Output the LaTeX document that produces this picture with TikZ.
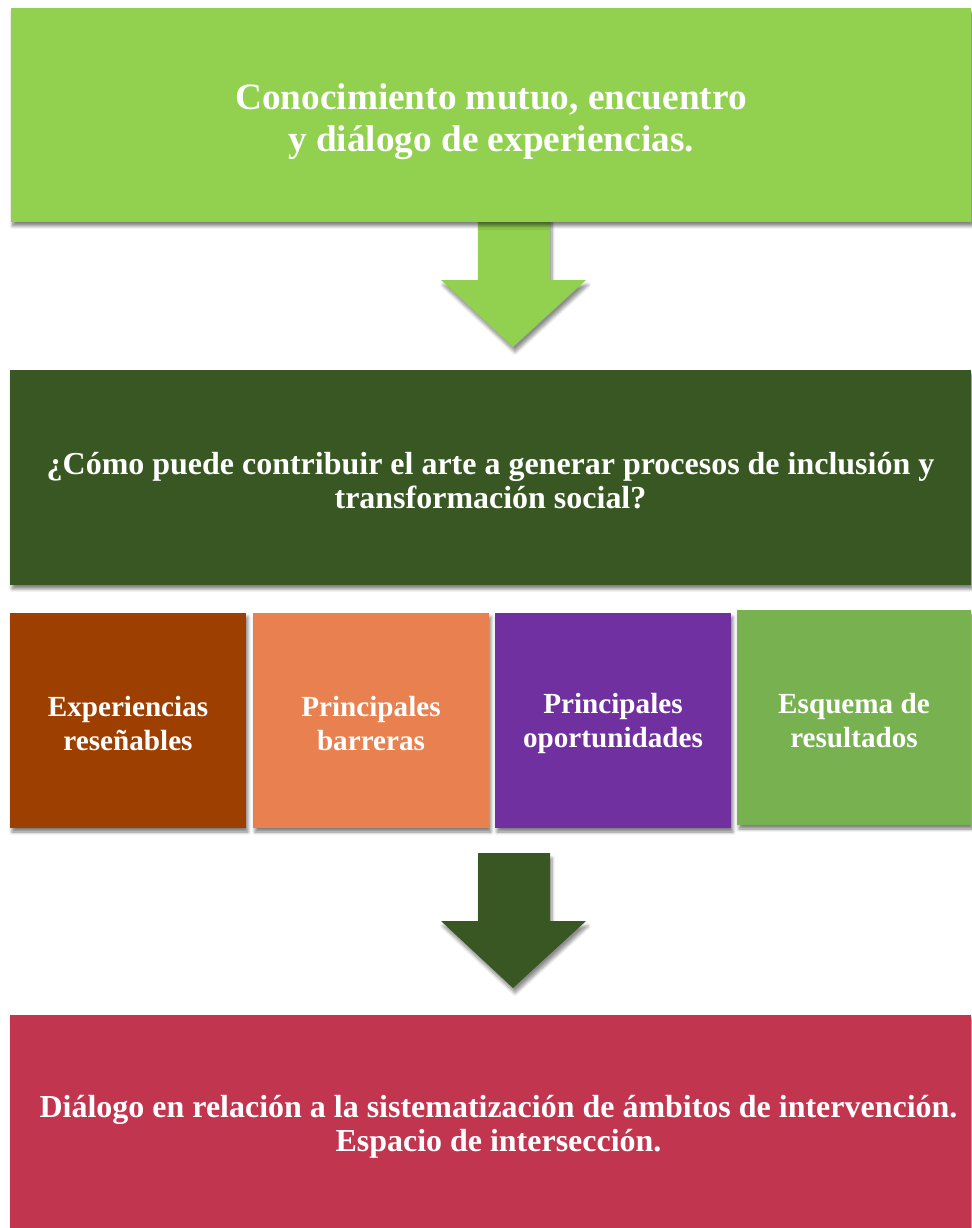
\documentclass[tikz,border=0pt]{standalone}
\usepackage{fontspec}
\setmainfont{Liberation Serif}
\usetikzlibrary{shadows.blur}

\definecolor{lightgreen}{HTML}{92D050}
\definecolor{darkgreen}{HTML}{385723}
\definecolor{brown}{HTML}{9E3F02}
\definecolor{orange}{HTML}{E8814F}
\definecolor{purple}{HTML}{7030A0}
\definecolor{midgreen}{HTML}{77B150}
\definecolor{rose}{HTML}{C1354F}

\tikzset{
    box/.style={rectangle, inner sep=0pt,
        blur shadow={shadow xshift=.04cm, shadow yshift=-.08cm,
            shadow blur steps=6, shadow opacity=50}},
    bigbox/.style={box, minimum width=19.22cm, minimum height=4.28cm},
    smallbox/.style={box, minimum width=4.72cm, minimum height=4.3cm},
    boxtext/.style={align=center, text=white, inner sep=0pt,
        font=\bfseries\fontsize{18.2}{19.6}\selectfont},
    smalltext/.style={boxtext, font=\bfseries\fontsize{16.6}{19.3}\selectfont},
    blockarrow/.style={blur shadow={shadow xshift=.04cm, shadow yshift=-.1cm,
            shadow blur steps=6, shadow opacity=45}}
}

\begin{document}
\begin{tikzpicture}[x=0.02cm, y=-0.02cm]
\useasboundingbox (0,0) rectangle (971,1228);

% arrows between the stages (drawn first, the boxes overlap them)
\coordinate (a1) at (513,215);
\coordinate (a2) at (513,853);
\fill[lightgreen, blockarrow] (a1) ++(-35,0) -- ++(0,65) -- ++(-37,0) -- (513,347)
    -- (586,280) -- ++(-36,0) -- ++(0,-65) -- cycle;
\fill[darkgreen, blockarrow] (a2) ++(-35,0) -- ++(0,68) -- ++(-37,0) -- (513,988)
    -- (586,921) -- ++(-36,0) -- ++(0,-68) -- cycle;

% boxes
\node[bigbox, fill=lightgreen] (start) at (491,115) {};
\node[bigbox, fill=darkgreen, minimum height=4.3cm] (question) at (490.5,477.5) {};
\node[smallbox, fill=brown]  (exper) at (128,720.5) {};
\node[smallbox, fill=orange] (barr)  at (371,720.5) {};
\node[smallbox, fill=purple] (oport) at (613,720.5) {};
\node[smallbox, fill=midgreen, minimum width=4.68cm] (esq) at (854,717.5) {};
\node[bigbox, fill=rose, minimum height=4.26cm] (dialog) at (490.5,1121.5) {};

% texts
\node[boxtext, font=\bfseries\fontsize{21.2}{23.8}\selectfont] (start-t) at ([yshift=-.14cm]start)
    {Conocimiento mutuo, encuentro\\y diálogo de experiencias.};
\node[boxtext] (question-t) at ([yshift=-.06cm]question)
    {¿Cómo puede contribuir el arte a generar procesos de inclusión y\\transformación social?};
\node[smalltext] (exper-t) at ([yshift=-.06cm]exper) {Experiencias\\reseñables};
\node[smalltext] (barr-t)  at ([yshift=-.06cm]barr)  {Principales\\barreras};
\node[smalltext] (oport-t) at ([yshift=-.06cm]oport) {Principales\\oportunidades};
\node[smalltext] (esq-t)   at ([yshift=-.06cm]esq)   {Esquema de\\resultados};
\node[boxtext] (dialog-t) at ([xshift=.16cm, yshift=-.1cm]dialog)
    {Diálogo en relación a la sistematización de ámbitos de intervención.\\Espacio de intersección.};

\end{tikzpicture}
\end{document}
